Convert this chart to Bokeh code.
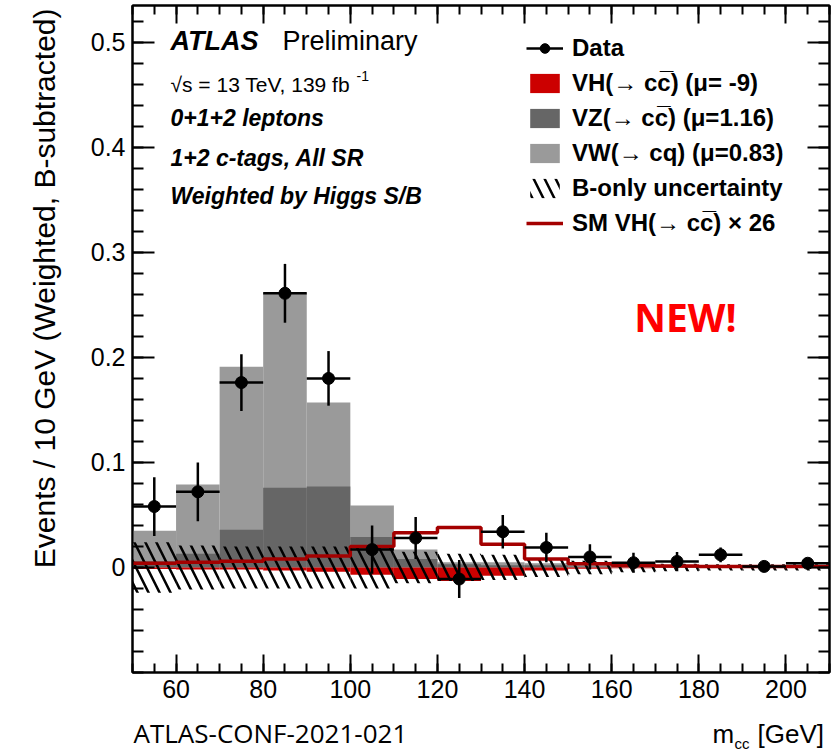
import math
from bokeh.plotting import figure
from bokeh.layouts import column
from bokeh.models import Range1d, LinearAxis, FixedTicker, Label, Legend, LegendItem, Title
from bokeh.embed import file_html
from bokeh.resources import INLINE

# ---------------- data ----------------
bin_lo = [50, 60, 70, 80, 90, 100, 110, 120, 130, 140, 150, 160, 170, 180, 190, 200]
bin_hi = [60, 70, 80, 90, 100, 110, 120, 130, 140, 150, 160, 170, 180, 190, 200, 210]
bin_center = [55, 65, 75, 85, 95, 105, 115, 125, 135, 145, 155, 165, 175, 185, 195, 205]

data_y = [0.058, 0.072, 0.176, 0.261, 0.180, 0.017, 0.028, -0.011, 0.034, 0.019,
          0.010, 0.0045, 0.0057, 0.012, 0.001, 0.004]
data_err = [0.028, 0.028, 0.027, 0.028, 0.026, 0.023, 0.020, 0.018, 0.016, 0.014,
            0.012, 0.0095, 0.009, 0.007, 0.004, 0.004]

vw_stack_top = [0.035, 0.079, 0.191, 0.261, 0.157, 0.059, 0.017, 0.005, 0.005, 0.004,
                0.003, 0.002, 0.001, 0.001, 0.0005, 0.0005]
vz_stack_top = [0.006, 0.013, 0.036, 0.076, 0.077, 0.029, 0.008, 0.003, 0.002, 0.002,
                0.001, 0.0005, 0.0003, 0.0002, 0.0001, 0.0001]
vh_mu_m9 = [-0.0015, -0.002, -0.002, -0.003, -0.004, -0.007, -0.011, -0.013, -0.008, -0.003,
            -0.0012, -0.0008, -0.0005, -0.0004, -0.0003, -0.0003]
sm_vh_x26 = [0.004, 0.005, 0.006, 0.008, 0.011, 0.020, 0.033, 0.038, 0.022, 0.008,
             0.0035, 0.002, 0.0015, 0.001, 0.001, 0.001]
bonly_unc = [0.024, 0.021, 0.020, 0.020, 0.020, 0.020, 0.015, 0.013, 0.012, 0.009,
             0.0065, 0.0045, 0.0035, 0.003, 0.003, 0.003]

x_ticks = [60, 80, 100, 120, 140, 160, 180, 200]
x_tick_labels = ["60", "80", "100", "120", "140", "160", "180", "200"]
y_ticks = [0.0, 0.1, 0.2, 0.3, 0.4, 0.5]
y_tick_labels = ["0", "0.1", "0.2", "0.3", "0.4", "0.5"]
x_minor = list(range(50, 211, 5))
y_minor = [round(-0.1 + 0.02 * i, 2) for i in range(32)]

y_title = "Events / 10 GeV (Weighted, B-subtracted)"
legend_labels = ["Data",
                 "VH(\u2192 cc\u0305) (\u03bc= -9)",
                 "VZ(\u2192 cc\u0305) (\u03bc=1.16)",
                 "VW(\u2192 cq) (\u03bc=0.83)",
                 "B-only uncertainty",
                 "SM VH(\u2192 cc\u0305) \u00d7 26"]

# ---------------- layout ----------------
W, H = 833, 751
STRIP = 40                      # bottom strip for the footer texts
PH = H - STRIP                  # main figure height
FL, FR, FT, FB = 132, 829, 5, 672   # frame edges in canvas pixels
FONT = "Liberation Sans"

p = figure(width=W, height=PH, x_range=Range1d(50, 210), y_range=Range1d(-0.1, 0.535),
           output_backend="svg", toolbar_location=None,
           min_border_left=FL, min_border_right=W - FR, min_border_top=FT,
           min_border_bottom=PH - FB)
p.grid.visible = False
p.background_fill_color = "white"
p.border_fill_color = "white"
p.outline_line_color = "black"
p.outline_line_width = 2


def style_axis(ax, ticks, minor, labels, maj_len, min_len, show_labels=True):
    ax.ticker = FixedTicker(ticks=ticks, minor_ticks=minor)
    ax.major_tick_in = maj_len
    ax.major_tick_out = 0
    ax.minor_tick_in = min_len
    ax.minor_tick_out = 0
    ax.major_tick_line_width = 2
    ax.minor_tick_line_width = 2
    ax.major_tick_line_color = "black"
    ax.minor_tick_line_color = "black"
    ax.axis_line_color = "black"
    ax.axis_line_width = 2
    if show_labels:
        ax.major_label_overrides = {t: s for t, s in zip(ticks, labels)}
        ax.major_label_text_font = FONT
        ax.major_label_text_font_size = "25px"
        ax.major_label_text_color = "black"
        ax.major_label_standoff = 7
    else:
        ax.major_label_overrides = {t: "" for t in ticks}
        ax.major_label_text_font_size = "1px"
        ax.major_label_standoff = 0


style_axis(p.xaxis[0], x_ticks, x_minor, x_tick_labels, 18, 9)
style_axis(p.yaxis[0], y_ticks, y_minor, y_tick_labels, 22, 11)
top_ax = LinearAxis()
right_ax = LinearAxis()
style_axis(top_ax, x_ticks, x_minor, x_tick_labels, 18, 9, show_labels=False)
style_axis(right_ax, y_ticks, y_minor, y_tick_labels, 22, 11, show_labels=False)
p.add_layout(top_ax, "above")
p.add_layout(right_ax, "right")

# y-axis title, top-aligned like ROOT
p.add_layout(Title(text=y_title, align="right", vertical_align="top", offset=3,
                   standoff=50, text_font=FONT, text_font_size="30px",
                   text_font_style="normal", text_color="black"), "left")

# ---------------- stacked histograms ----------------
r_vw = p.quad(left=bin_lo, right=bin_hi, bottom=0, top=vw_stack_top,
              fill_color="#9a9a9a", line_color=None)
r_vz = p.quad(left=bin_lo, right=bin_hi, bottom=0, top=vz_stack_top,
              fill_color="#666666", line_color=None)
r_vh = p.quad(left=bin_lo, right=bin_hi, bottom=vh_mu_m9, top=0,
              fill_color="#cc0000", line_color=None)

unc_lo = [-u for u in bonly_unc]
r_unc = p.quad(left=bin_lo, right=bin_hi, bottom=unc_lo, top=bonly_unc,
               fill_alpha=0, line_color=None, hatch_pattern="\\",
               hatch_color="black", hatch_weight=2.5, hatch_scale=22)

edges = bin_lo + [bin_hi[-1]]
r_sm = p.step(x=edges, y=sm_vh_x26 + [sm_vh_x26[-1]], mode="after",
              line_color="#a40000", line_width=3.5)

# ---------------- data points ----------------
r_hbar = p.segment(x0=bin_lo, x1=bin_hi, y0=data_y, y1=data_y,
                   line_color="black", line_width=2.5)
err_lo = [y - e for y, e in zip(data_y, data_err)]
err_hi = [y + e for y, e in zip(data_y, data_err)]
r_vbar = p.segment(x0=bin_center, x1=bin_center, y0=err_lo, y1=err_hi,
                   line_color="black", line_width=2.5)
r_pts = p.scatter(x=bin_center, y=data_y, size=12, marker="circle",
                  fill_color="black", line_color="black")

# ---------------- legend ----------------
legend = Legend(items=[
    LegendItem(label=legend_labels[0], renderers=[r_hbar, r_pts]),
    LegendItem(label=legend_labels[1], renderers=[r_vh]),
    LegendItem(label=legend_labels[2], renderers=[r_vz]),
    LegendItem(label=legend_labels[3], renderers=[r_vw]),
    LegendItem(label=legend_labels[4], renderers=[r_unc]),
    LegendItem(label=legend_labels[5], renderers=[r_sm]),
], location=(526 - FL, FB - 237), glyph_width=37, glyph_height=24,
    label_standoff=9, spacing=7, padding=0, margin=0,
    border_line_color=None, background_fill_alpha=0,
    label_text_font=FONT, label_text_font_style="bold",
    label_text_font_size="24px", label_text_color="black")
p.add_layout(legend, "center")


# ---------------- texts ----------------
def add_text(fig, fb, cx, cy, text, size, style="normal", font=FONT, color="black",
             align="left"):
    fig.add_layout(Label(x=cx - FL, y=fb - cy,
                         x_units="screen", y_units="screen",
                         text=text, text_font=font, text_font_size=size,
                         text_font_style=style, text_color=color,
                         text_align=align, text_baseline="alphabetic"))


add_text(p, FB, 170, 40, "ATLAS", "27px", "bold italic")
add_text(p, FB, 282, 40, "Preliminary", "27px")
add_text(p, FB, 170, 84, "\u221as = 13 TeV, 139 fb", "21px")
add_text(p, FB, 356, 75, "-1", "14px")
add_text(p, FB, 170, 117, "0+1+2 leptons", "23px", "bold italic")
add_text(p, FB, 170, 157, "1+2 c-tags, All SR", "23px", "bold italic")
add_text(p, FB, 170, 195, "Weighted by Higgs S/B", "23px", "bold italic")

add_text(p, FB, 685, 316, "NEW!", "39px", "bold", font="Open Sans", color="#ff0000",
         align="center")

# ---------------- footer strip (frame aligned with the main plot) ----------------
p2 = figure(width=W, height=STRIP, x_range=Range1d(0, 1), y_range=Range1d(0, 1),
            output_backend="svg", toolbar_location=None,
            x_axis_type=None, y_axis_type=None,
            min_border_left=FL, min_border_right=W - FR, min_border_top=0,
            min_border_bottom=0)
p2.grid.visible = False
p2.outline_line_color = None
p2.background_fill_color = "white"
p2.border_fill_color = "white"

add_text(p2, STRIP, 133, 732 - PH, "ATLAS-CONF-2021-021", "26px", font="Open Sans")
add_text(p2, STRIP, 712, 733 - PH, "m", "26px")
add_text(p2, STRIP, 734, 743 - PH, "cc", "15px")
add_text(p2, STRIP, 757, 733 - PH, "[GeV]", "26px")

layout = column(p, p2, spacing=0)
open("out.html", "w").write(file_html(layout, INLINE))
